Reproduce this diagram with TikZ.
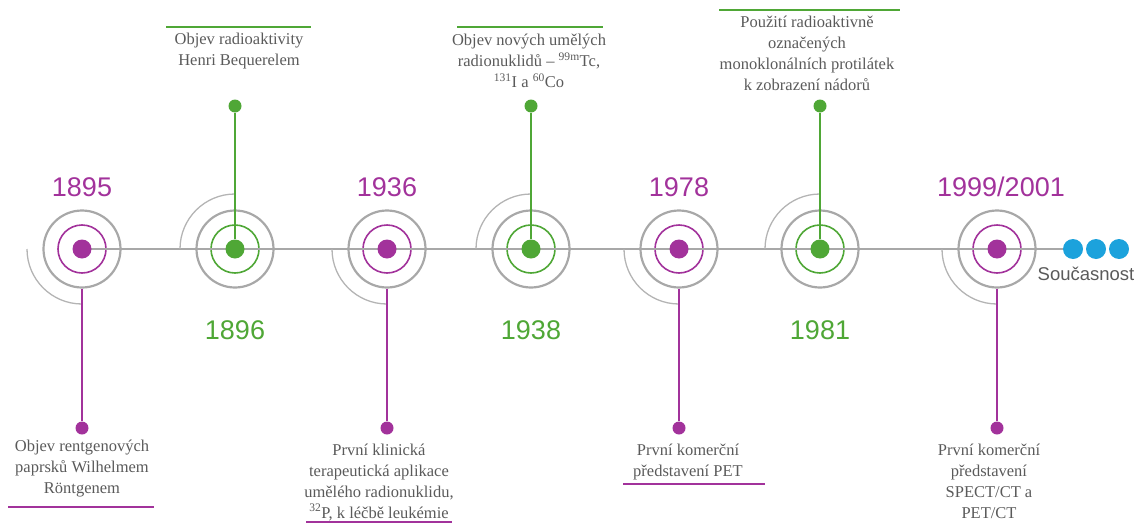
\documentclass[tikz,border=0pt]{standalone}
\usepackage{fontspec}
\setmainfont{Liberation Serif}
\setsansfont{Liberation Sans}
\definecolor{mag}{HTML}{A2329B}
\definecolor{grn}{HTML}{4FA736}
\definecolor{ringgray}{HTML}{A8A8A8}
\definecolor{arcgray}{HTML}{B4B4B4}
\definecolor{txtgray}{HTML}{5A5A5A}
\definecolor{nowblue}{HTML}{1CA2DC}
\tikzset{
  ring/.style={circle,draw=ringgray,line width=2.2pt,minimum size=77pt,inner sep=0pt},
  mring/.style={circle,draw=mag,line width=1.6pt,minimum size=48pt,inner sep=0pt},
  gring/.style={circle,draw=grn,line width=1.6pt,minimum size=48pt,inner sep=0pt},
  mdot/.style={circle,fill=mag,minimum size=19pt,inner sep=0pt},
  gdot/.style={circle,fill=grn,minimum size=19pt,inner sep=0pt},
  mpin/.style={circle,fill=mag,minimum size=13pt,inner sep=0pt},
  gpin/.style={circle,fill=grn,minimum size=13pt,inner sep=0pt},
  nowdot/.style={circle,fill=nowblue,minimum size=20pt,inner sep=0pt},
  axis/.style={draw=ringgray,line width=1.5pt},
  quarter/.style={draw=arcgray,line width=1.3pt},
  mline/.style={draw=mag,line width=1.6pt},
  gline/.style={draw=grn,line width=1.6pt},
  year/.style={font=\sffamily\fontsize{27}{31}\selectfont,inner sep=0pt},
  note/.style={align=center,text=txtgray,font=\fontsize{16.5}{21}\selectfont,inner sep=0pt},
}
\begin{document}
\begin{tikzpicture}[x=1pt,y=-1pt]
\useasboundingbox (0,0) rectangle (1141,525);
% kruhy na ose
\foreach \x/\n/\col in {82/1895/m,235/1896/g,387/1936/m,531/1938/g,679/1978/m,820/1981/g,997/1999/m}{
  \node[ring] (o\n) at (\x,249) {};
  \node[\col ring] (i\n) at (\x,249) {};
}
\coordinate (now1) at (1073,249);
\draw[axis] (o1895.center) -- (now1);
% ctvrtkruhy
\foreach \n in {1895,1936,1978,1999}
  \draw[quarter] ([xshift=-55pt]o\n.center) arc[start angle=180,end angle=270,radius=55pt];
\foreach \n in {1896,1938,1981}
  \draw[quarter] ([xshift=-55pt]o\n.center) arc[start angle=180,end angle=90,radius=55pt];
% soucasnost
\node[nowdot] (n1) at (now1) {};
\node[nowdot] (n2) at (1096,249) {};
\node[nowdot] (n3) at (1119,249) {};
\node[text=txtgray,font=\sffamily\fontsize{18.5}{22}\selectfont] (soucasnost) at (1086,274) {Současnost};
% udalosti dole
\foreach \x/\n in {82/1895,387/1936,679/1978,997/1999}{
  \node[mpin] (p\n) at (\x,428) {};
  \draw[mline] (o\n.south) -- (p\n);
  \node[mdot] (d\n) at (\x,249) {};
}
% udalosti nahore
\foreach \x/\n in {235/1896,531/1938,820/1981}{
  \node[gdot] (d\n) at (\x,249) {};
  \node[gpin] (p\n) at (\x,106) {};
  \draw[gline] (d\n) -- (p\n);
}
% roky
\node[year,text=mag] (y1895) at (82,187) {1895};
\node[year,text=grn] (y1896) at (235,330) {1896};
\node[year,text=mag] (y1936) at (387,187) {1936};
\node[year,text=grn] (y1938) at (531,330) {1938};
\node[year,text=mag] (y1978) at (679,187) {1978};
\node[year,text=grn] (y1981) at (820,330) {1981};
\node[year,text=mag] (y1999) at (1001,187) {1999/2001};
% popisky
\node[note,anchor=north] (t1895) at (82,440) {Objev rentgenových\\paprsků Wilhelmem\\Röntgenem};
\node[note,anchor=north] (t1936) at (379,443.5) {První klinická\\terapeutická aplikace\\umělého radionuklidu,\\\textsuperscript{32}P, k léčbě leukémie};
\node[note,anchor=north] (t1978) at (688,443.5) {První komerční\\představení PET};
\node[note,anchor=north] (t1999) at (989,443.5) {První komerční\\představení\\SPECT/CT a\\PET/CT};
\node[note,anchor=north] (t1896) at (239,33) {Objev radioaktivity\\Henri Bequerelem};
\node[note,anchor=north] (t1938) at (529,34) {Objev nových umělých\\radionuklidů – \textsuperscript{99m}Tc,\\\textsuperscript{131}I a \textsuperscript{60}Co};
\node[note,anchor=north] (t1981) at (807,16) {Použití radioaktivně\\označených\\monoklonálních protilátek\\k zobrazení nádorů};
% podtrzeni
\draw[mline] (8,507) -- (154,507);
\draw[mline] (306,522) -- (452,522);
\draw[mline] (623,484) -- (765,484);
\draw[gline] (166,27) -- (311,27);
\draw[gline] (457,27) -- (603,27);
\draw[gline] (719,10) -- (900,10);
\end{tikzpicture}
\end{document}
